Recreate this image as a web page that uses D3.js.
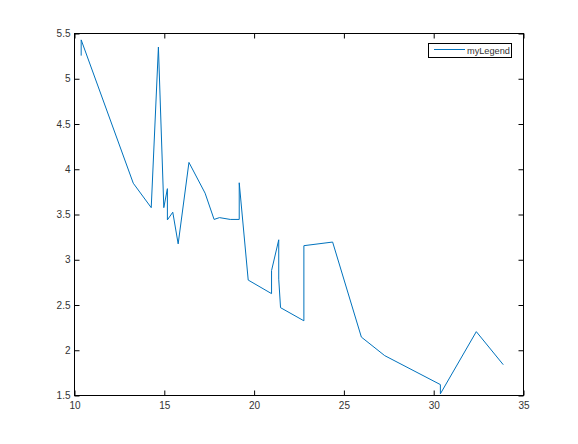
<!DOCTYPE html>
<html><head><meta charset="utf-8">
<script src="https://cdn.jsdelivr.net/npm/d3@7"></script>
<style>body{margin:0;background:#fff}svg{display:block}</style>
</head><body>
<script>
const xValues = [10.4,10.4,13.3,14.3,14.7,15.0,15.2,15.2,15.5,15.8,16.4,17.3,17.8,18.1,18.7,19.2,19.2,19.7,21.0,21.0,21.4,21.4,21.5,22.8,22.8,24.4,26.0,27.3,30.4,30.4,32.4,33.9];
const yValues = [5.250,5.424,3.840,3.570,5.345,3.570,3.780,3.435,3.520,3.170,4.070,3.730,3.440,3.460,3.440,3.440,3.845,2.770,2.620,2.875,3.215,2.780,2.465,2.320,3.150,3.190,2.140,1.935,1.615,1.513,2.200,1.835];
const xTicks = [10,15,20,25,30,35];
const yTicks = [1.5,2,2.5,3,3.5,4,4.5,5,5.5];
const legendLabel = "myLegend";

const W=578,H=444, L=74, R=523, T=33, B=395;
const svg=d3.select("body").append("svg").attr("width",W).attr("height",H);
const x=d3.scaleLinear().domain([10,35]).range([L,R]);
const y=d3.scaleLinear().domain([1.5,5.5]).range([B,T]);
const font="'Liberation Sans', Arial, Helvetica, sans-serif";
const tk=5;

const g=svg.append("g");
g.append("rect").attr("x",L+0.5).attr("y",T+0.5).attr("width",R-L).attr("height",B-T)
 .attr("fill","none").attr("stroke","#000").attr("stroke-width",1);

const xb=g.append("g").attr("transform",`translate(0.5,${B+0.5})`).call(d3.axisBottom(x).tickValues(xTicks).tickSize(-tk).tickPadding(4).tickFormat(d3.format("d")));
const xt=g.append("g").attr("transform",`translate(0.5,${T+0.5})`).call(d3.axisTop(x).tickValues(xTicks).tickSize(-tk).tickFormat(""));
const yl=g.append("g").attr("transform",`translate(${L+0.5},0.5)`).call(d3.axisLeft(y).tickValues(yTicks).tickSize(-tk).tickPadding(4).tickFormat(d=>String(d)));
const yr=g.append("g").attr("transform",`translate(${R+0.5},0.5)`).call(d3.axisRight(y).tickValues(yTicks).tickSize(-tk).tickFormat(""));
[xb,xt,yl,yr].forEach(a=>{a.select(".domain").remove();a.selectAll("line").attr("stroke","#000");
 a.selectAll("text").attr("font-family",font).attr("font-size",10).attr("fill","#333");});
xb.selectAll("text").attr("dy","0.9em");

const pts=xValues.map((v,i)=>[v,yValues[i]]);
g.append("path").datum(pts).attr("fill","none").attr("stroke","#0072BD").attr("stroke-width",1)
 .attr("stroke-linejoin","round")
 .attr("d",d3.line().x(d=>x(d[0])).y(d=>y(d[1])));

const lg=g.append("g");
lg.append("rect").attr("x",428.5).attr("y",43.5).attr("width",83).attr("height",14).attr("fill","#fff").attr("stroke","#000");
lg.append("line").attr("x1",434).attr("x2",465).attr("y1",49.5).attr("y2",49.5).attr("stroke","#0072BD").attr("stroke-width",1);
lg.append("text").attr("x",467).attr("y",53.5).attr("font-family",font).attr("font-size",9.2).attr("fill","#333").text(legendLabel);
</script>
</body></html>
